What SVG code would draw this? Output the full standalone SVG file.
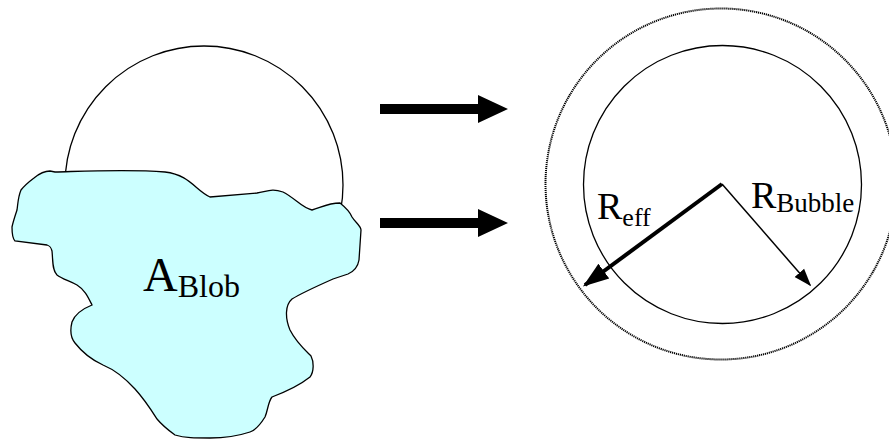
<svg xmlns="http://www.w3.org/2000/svg" width="889" height="440" viewBox="0 0 889 440">
<style>
.ln{fill:none;stroke:#000;stroke-width:1.3}
.t{font-family:"Liberation Serif","Times New Roman",serif;fill:#000}
.big{fill:#000}
</style>
<defs>
<marker id="ah" viewBox="0 0 10 10" refX="9" refY="5" markerWidth="6.5" markerHeight="6.5" markerUnits="strokeWidth" orient="auto"><path d="M0,1.5 L10,5 L0,8.5 Z" fill="#000"/></marker>
<marker id="ah2" viewBox="0 0 10 10" refX="9" refY="5" markerWidth="12" markerHeight="12" markerUnits="strokeWidth" orient="auto"><path d="M0,1.5 L10,5 L0,8.5 Z" fill="#000"/></marker>
</defs>
<rect width="889" height="440" fill="#fff"/>
<g id="bubble-left">
<circle class="ln" cx="204" cy="185" r="139"/>
</g>
<g id="blob">
<path d="M55,172 C90,171 130,169 165,172 C190,175 195,190 210,197 L257,193 C268,191 272,188 283,192 C295,198 302,208 312,210 C320,208 328,203 340,203 C345,207 350,212 352,217 C355,222 361,226 361,230 L359,260 C358,266 355,271 348,274 L333,279 C315,287 300,294 292,299 C285,305 285,318 290,330 C296,342 305,350 311,356 C314,362 314,372 310,377 C300,385 285,392 272,397 C268,402 268,410 265,417 C260,425 256,430 250,432 C235,437 225,438 210,438 C195,438 185,438 175,435 C168,430 162,425 157,419 C150,408 145,400 135,389 C125,378 115,370 103,365 C92,360 82,352 75,343 C70,337 70,330 72,322 C75,314 82,309 92,305 C88,297 85,290 77,285 C70,281 62,279 57,275 C52,270 53,260 52,251 C51,247 50,246 47,245 L15,241 C12,238 12,232 12,227 C13,222 15,216 17,210 C18,203 18,197 21,190 C25,185 30,181 34,178 C40,173 45,171 50,171 Z" fill="#ccffff" stroke="#000" stroke-width="1.3"/>
<text class="t" x="143" y="291" font-size="48">A<tspan font-size="32" dy="6">Blob</tspan></text>
</g>
<g id="connectors">
<path d="M380,104 H478 V95 L508,109 L478,123 V114 H380 Z" class="big"/>
<path d="M380,218 H478 V209 L508,223 L478,237 V228 H380 Z" class="big"/>
</g>
<g id="bubble-right">
<circle cx="721" cy="184" r="175.5" fill="none" stroke="#000" stroke-width="2" stroke-dasharray="1.2,0.8"/>
<circle class="ln" cx="722.5" cy="184.5" r="139"/>
<line x1="722" y1="184" x2="585" y2="285" stroke="#000" stroke-width="4" marker-end="url(#ah)"/>
<line x1="722" y1="184" x2="810" y2="285" stroke="#000" stroke-width="1.5" marker-end="url(#ah2)"/>
<text class="t" x="597" y="219" font-size="38">R<tspan font-size="26" dy="7">eff</tspan></text>
<text class="t" x="751" y="208" font-size="38">R<tspan font-size="27" dy="4">Bubble</tspan></text>
</g>
</svg>
